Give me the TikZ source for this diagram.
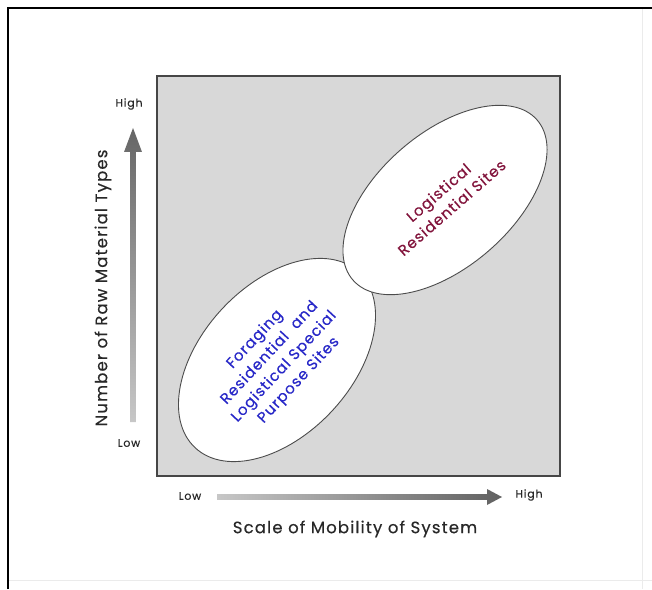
\documentclass[tikz,border=0pt]{standalone}
\usepackage{fontspec}
\setmainfont{Poppins}[LetterSpace=7, FakeBold=0.4]
\usetikzlibrary{shapes.geometric,calc}
\definecolor{boxgray}{RGB}{216,216,216}
\definecolor{boxline}{RGB}{70,70,70}
\definecolor{forblue}{RGB}{40,40,200}
\definecolor{logred}{RGB}{130,20,60}
\definecolor{txtgray}{RGB}{40,40,40}
\tikzset{
  zone/.style={ellipse, draw=black!70, line width=0.9pt, fill=white, inner sep=0pt, align=center, font=\fontsize{15}{20}\selectfont},
  ticklabel/.style={font=\fontsize{11}{13}\selectfont, text=txtgray, inner sep=0pt},
  axislabel/.style={font=\fontsize{16.5}{19}\selectfont, text=txtgray, inner sep=0pt}
}
\begin{document}
\begin{tikzpicture}[x=1pt,y=1pt]
\useasboundingbox (0,0) rectangle (652,589);
% frame
\draw[black!8, line width=1pt] (642,580.5) -- (642,0);
\draw[black!8, line width=1pt] (7.5,9) -- (652,9);
\draw[black, line width=2pt] (7.5,0) -- (7.5,580.5) -- (652,580.5);
% plot box
\node[draw=boxline, line width=1.2pt, fill=boxgray, minimum width=403pt, minimum height=400pt, inner sep=0pt] (box) at (358.5,313) {};
% vertical arrow
\coordinate (ytail) at (133,167);
\coordinate (ytip) at (133,461);
\shade[top color=black!60, bottom color=black!22]
  ($(ytail)+(-2.8,0)$) -- ($(ytip)+(-2.8,-24)$) -- ($(ytip)+(-9,-24)$) -- (ytip)
  -- ($(ytip)+(9,-24)$) -- ($(ytip)+(2.8,-24)$) -- ($(ytail)+(2.8,0)$) -- cycle;
\node[ticklabel] (yhigh) at (129,485) {High};
\node[ticklabel] (ylow) at (129,146) {Low};
\node[axislabel, rotate=90] (ylab) at (103,301) {Number of Raw Material Types};
% horizontal arrow
\coordinate (xtail) at (217,92);
\coordinate (xtip) at (502,92);
\shade[left color=black!22, right color=black!62]
  ($(xtail)+(0,-2.8)$) -- ($(xtip)+(-15,-2.8)$) -- ($(xtip)+(-15,-8)$) -- (xtip)
  -- ($(xtip)+(-15,8)$) -- ($(xtip)+(-15,2.8)$) -- ($(xtail)+(0,2.8)$) -- cycle;
\node[ticklabel] (xlow) at (190,93) {Low};
\node[ticklabel] (xhigh) at (529,94) {High};
\node[axislabel] (xlab) at (355,60) {Scale of Mobility of System};
% zones
\node[zone, text=forblue, minimum width=240pt, minimum height=150pt, rotate=47] (forage) at (277,229)
  {Foraging\\Residential\ \ and\\Logistical Special\\Purpose Sites};
\node[zone, text=logred, minimum width=244pt, minimum height=134pt, rotate=41] (logres) at (445,389)
  {Logistical\\Residential Sites};
\end{tikzpicture}
\end{document}
